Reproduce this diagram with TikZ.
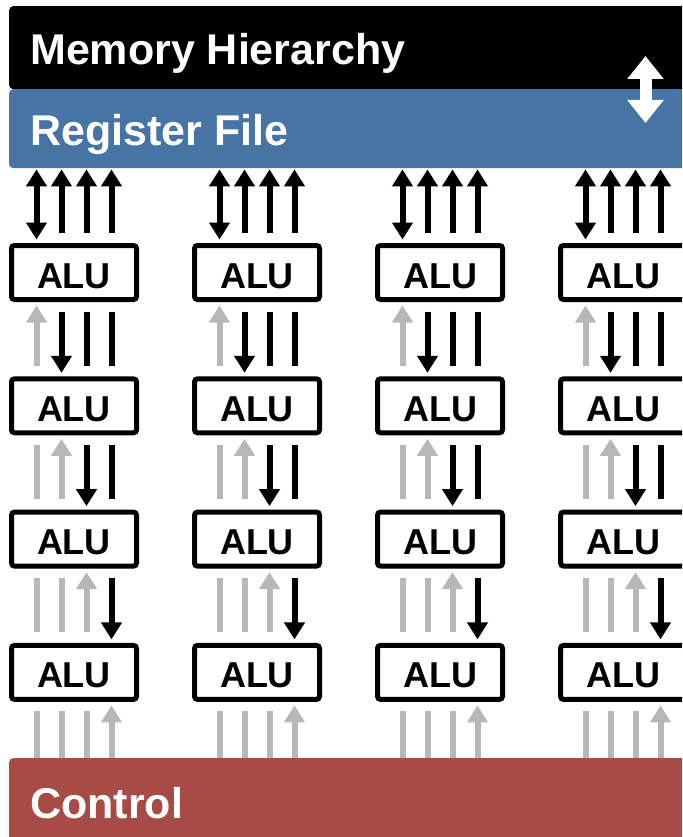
\documentclass[tikz,border=0pt]{standalone}
\usepackage{fontspec}
\setmainfont{Liberation Sans}
\usetikzlibrary{positioning,arrows.meta,calc}
\tikzset{>={Triangle[width=20pt,length=17pt]}}
\definecolor{rfblue}{RGB}{70,116,165}
\definecolor{ctrlred}{RGB}{166,75,69}
\definecolor{wiregray}{RGB}{183,183,183}

\begin{document}
\begin{tikzpicture}[x=1pt,y=-1pt,
    bar/.style={anchor=north west,minimum width=700pt,inner sep=0pt,rounded corners=4pt},
    bartext/.style={anchor=base west,inner sep=0pt,text=white,font=\bfseries\fontsize{43}{50}\selectfont},
    alu/.style={draw,line width=5pt,rounded corners=3pt,minimum width=125pt,minimum height=54pt,inner sep=0pt,text height=31pt,text depth=0pt,font=\bfseries\fontsize{36}{40}\selectfont},
    live/.style={line width=6pt,black},
    idle/.style={line width=6pt,wiregray}]
  \useasboundingbox (0,0) rectangle (682,837);
  \clip (0,0) rectangle (682,837);
  \node[bar,fill=black,minimum height=83pt] (mem) at (9,6) {};
  \node[bar,fill=rfblue,minimum height=79pt] (rf) at (9,89) {};
  \node[bar,fill=ctrlred,minimum height=90pt] (ctrl) at (9,758) {};
  \node[bartext] (memtext) at (30,65) {Memory Hierarchy};
  \node[bartext] (rftext) at (30,146) {Register File};
  \node[bartext] (ctrltext) at (30,818) {Control};
  % memory <-> register file
  \coordinate (memio) at (645.5,56);
  \coordinate (rfio) at (645.5,123);
  \draw[white,line width=12pt,{Triangle[width=35pt,length=23pt]}-{Triangle[width=35pt,length=23pt]}] (memio) -- (rfio);
  % ALU array
  \foreach \c in {1,...,4}
    \foreach \r in {1,...,4}
      \node[alu] (alu-\c-\r) at ({74+183*(\c-1)},{272.5+133.3*(\r-1)}) {ALU};
  % wires
  \foreach \c in {1,...,4} {
    \foreach \k in {1,...,4} {
      \pgfmathsetmacro\dx{25*\k-62.5}
      % to register file
      \ifnum\k=1
        \draw[live,<->] ($(alu-\c-1.north)+(\dx,-3.5)$) -- ($(alu-\c-1.north |- rf.south)+(\dx,1)$);
      \else
        \draw[live,->] ($(alu-\c-1.north)+(\dx,-10.5)$) -- ($(alu-\c-1.north |- rf.south)+(\dx,1)$);
      \fi
      % between rows
      \foreach \r [evaluate=\r as \s using int(\r+1)] in {1,2,3} {
        \ifnum\k<\r
          \draw[idle] ($(alu-\c-\r.south)+(\dx,9.5)$) -- ($(alu-\c-\s.north)+(\dx,-10.5)$);
        \else\ifnum\k=\r
          \draw[idle,->] ($(alu-\c-\s.north)+(\dx,-10.5)$) -- ($(alu-\c-\r.south)+(\dx,3.5)$);
        \else\ifnum\k=\s
          \draw[live,->] ($(alu-\c-\r.south)+(\dx,9.5)$) -- ($(alu-\c-\s.north)+(\dx,-3.5)$);
        \else
          \draw[live] ($(alu-\c-\r.south)+(\dx,9.5)$) -- ($(alu-\c-\s.north)+(\dx,-10.5)$);
        \fi\fi\fi
      }
      % to control
      \ifnum\k=4
        \draw[idle,->] ($(alu-\c-4.south |- ctrl.north)+(\dx,0)$) -- ($(alu-\c-4.south)+(\dx,3.5)$);
      \else
        \draw[idle] ($(alu-\c-4.south)+(\dx,9.5)$) -- ($(alu-\c-4.south |- ctrl.north)+(\dx,0)$);
      \fi
    }
  }
\end{tikzpicture}
\end{document}
